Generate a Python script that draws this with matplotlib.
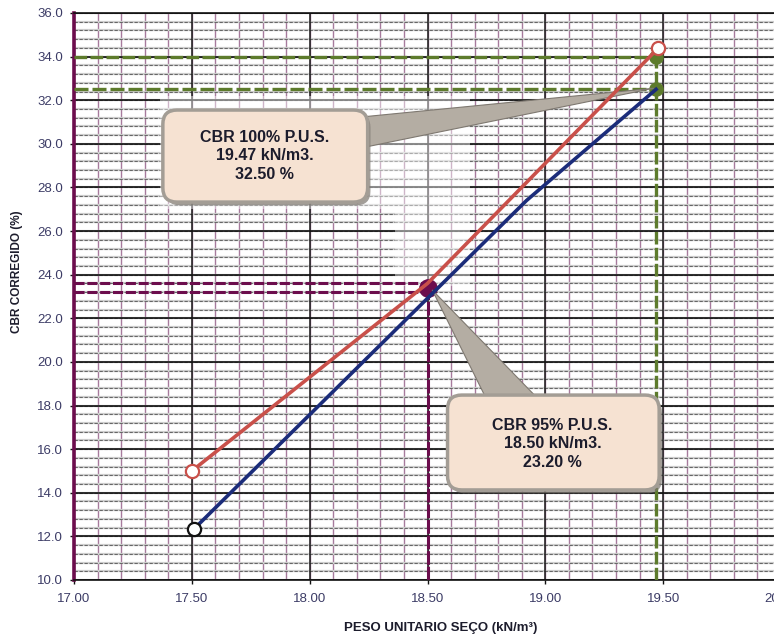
import numpy as np
import matplotlib
matplotlib.use("Agg")
import matplotlib.pyplot as plt
from matplotlib.patches import FancyBboxPatch, Polygon, Rectangle

plt.rcParams['font.family'] = ['Liberation Sans', 'DejaVu Sans']

# ---------------- data ----------------
red_x = [17.50, 18.50, 19.48]
red_y = [15.0, 23.6, 34.4]
blue_x = [17.51, 18.92, 19.47]
blue_y = [12.35, 27.4, 32.5]

pus_100 = 19.47          # peso unitario seco max
cbr_100_top = 34.0       # CBR at 100% (upper curve)
cbr_100 = 32.50          # CBR 100% reported
pus_95 = 18.50
cbr_95_red = 23.6
cbr_95 = 23.20
cbr_95_mark = 23.4

x_ticks = [17.00, 17.50, 18.00, 18.50, 19.00, 19.50, 20.00]
y_ticks = [10.0, 12.0, 14.0, 16.0, 18.0, 20.0, 22.0, 24.0, 26.0, 28.0, 30.0, 32.0, 34.0, 36.0]

label_100 = f"CBR 100% P.U.S.\n{pus_100:.2f} kN/m3.\n{cbr_100:.2f} %"
label_95 = f"CBR 95% P.U.S.\n{pus_95:.2f} kN/m3.\n{cbr_95:.2f} %"

# ---------------- figure ----------------
W, H = 774, 636
fig = plt.figure(figsize=(W / 100, H / 100), dpi=100)
ax = fig.add_axes([74 / W, 56 / H, 707 / W, 567 / H])
ax.set_xlim(17.0, 20.0)
ax.set_ylim(10.0, 36.0)

# grid
xv_minor = np.arange(17.0, 20.0001, 0.1)
xv_major = np.arange(17.0, 20.0001, 0.5)
yh_minor = np.arange(10.0, 36.0001, 0.4)
yh_major = np.arange(10.0, 36.0001, 2.0)
ax.vlines(xv_minor, 10, 36, color='#a67a9c', lw=1.0, zorder=1)
ax.hlines(yh_minor, 17, 20, color='#cfcfcf', lw=1.6, zorder=1)
ax.hlines(yh_minor, 17, 20, color='#222222', lw=0.8, linestyles=(0, (3, 1.5)), alpha=0.6, zorder=1.1)
ax.vlines(xv_major, 10, 36, color='#1a1a1a', lw=1.1, zorder=1.2)
ax.hlines(yh_major, 17, 20, color='#111111', lw=1.2, zorder=1.2)

# pale haze behind the upper callout
ax.add_patch(Rectangle((17.365, 27.0), 1.315, 5.2, facecolor='white', edgecolor='none', alpha=0.45, zorder=1.5))
ax.add_patch(Rectangle((18.36, 23.5), 0.32, 3.5, facecolor='white', edgecolor='none', alpha=0.45, zorder=1.5))

# reference dashed lines
green = '#5d7b2c'
maroon = '#6c0d4d'
ax.plot([17.0, pus_100], [cbr_100_top, cbr_100_top], color=green, lw=2.4, ls=(0, (3.8, 1.0)), zorder=3)
ax.plot([17.0, pus_100], [cbr_100, cbr_100], color=green, lw=2.4, ls=(0, (4.2, 1.2)), zorder=3)
ax.plot([pus_100, pus_100], [10.0, cbr_100_top], color=green, lw=2.4, ls=(0, (3.8, 1.0)), zorder=3)
ax.plot([17.0, pus_95], [cbr_95_red, cbr_95_red], color=maroon, lw=2.2, ls=(0, (3.3, 0.9)), zorder=3)
ax.plot([17.0, pus_95], [cbr_95, cbr_95], color=maroon, lw=2.2, ls=(0, (3.3, 0.9)), zorder=3)
ax.plot([pus_95, pus_95], [10.0, cbr_95_mark], color=maroon, lw=2.2, ls=(0, (4.5, 0.6)), zorder=3)

# markers at reference points
ax.plot([pus_100, pus_100], [cbr_100_top, cbr_100], 'o', color=green, ms=9.5, zorder=4)
ax.plot([pus_95], [cbr_95_mark], 'o', color=maroon, ms=12.5, zorder=4)

# callouts
aspect = (707 / 3.0) / (567 / 26.0)

def callout(box, tail, text, tx, ty):
    x0, y0, x1, y1 = box
    tp = Polygon(tail, closed=True, facecolor='#b4ada3', edgecolor='#7e7870', lw=0.8, zorder=5)
    ax.add_patch(tp)
    sh = FancyBboxPatch((x0 + 0.012, y0 - 0.15), x1 - x0, y1 - y0,
                        boxstyle="round,pad=0,rounding_size=0.06", mutation_aspect=aspect,
                        facecolor='#7d7770', edgecolor='none', alpha=0.7, zorder=6.9)
    ax.add_patch(sh)
    bx = FancyBboxPatch((x0, y0), x1 - x0, y1 - y0,
                        boxstyle="round,pad=0,rounding_size=0.06", mutation_aspect=aspect,
                        facecolor='#f6e2d2', edgecolor='#a39d95', lw=2.5, zorder=7)
    ax.add_patch(bx)
    ax.text(tx, ty, text, ha='center', va='center', fontsize=11.5, fontweight='bold',
            color='#1c1c2c', linespacing=1.3, zorder=8)

callout((17.377, 27.33, 18.246, 31.55),
        [(18.19, 31.20), (18.19, 29.75), (pus_100 - 0.01, cbr_100 + 0.05)],
        label_100, 17.81, 29.45)
callout((18.585, 14.13, 19.483, 18.48),
        [(18.75, 18.3), (18.97, 18.3), (pus_95 + 0.02, cbr_95_mark - 0.1)],
        label_95, 19.03, 16.25)

# main curves
ax.plot(red_x, red_y, color='#c9504a', lw=2.6, zorder=6)
ax.plot(blue_x, blue_y, color='#1b2c7a', lw=2.6, zorder=6)
ax.plot([red_x[0], red_x[-1]], [red_y[0], red_y[-1]], 'o', ms=9.5, mfc='white', mec='#c9504a', mew=1.6, zorder=6.5)
ax.plot([blue_x[0]], [blue_y[0]], 'o', ms=9.5, mfc='white', mec='#111111', mew=1.6, zorder=6.5)

# axes styling
for s in ['top', 'right', 'bottom']:
    ax.spines[s].set_color('#111111')
    ax.spines[s].set_linewidth(1.2)
ax.spines['left'].set_color(maroon)
ax.spines['left'].set_linewidth(2.6)
ax.set_xticks(x_ticks)
ax.set_xticklabels([f"{v:.2f}" for v in x_ticks])
ax.set_yticks(y_ticks)
ax.set_yticklabels([f"{v:.1f}" for v in y_ticks])
ax.tick_params(axis='both', labelsize=9.5, labelcolor='#3c3c66', length=3, width=1, color='#111111')
ax.tick_params(axis='x', pad=6)
ax.tick_params(axis='y', pad=5)

ax.set_xlabel("PESO UNITARIO SEÇO (kN/m³)", fontsize=9.5, fontweight='bold', color='#1c1c2c')
ax.xaxis.set_label_coords(0.518, -0.074)
ax.set_ylabel("CBR CORREGIDO (%)", fontsize=8.5, fontweight='bold', color='#1c1c2c')
ax.yaxis.set_label_coords(-0.072, 0.543)

fig.savefig("out.png", dpi=100)
